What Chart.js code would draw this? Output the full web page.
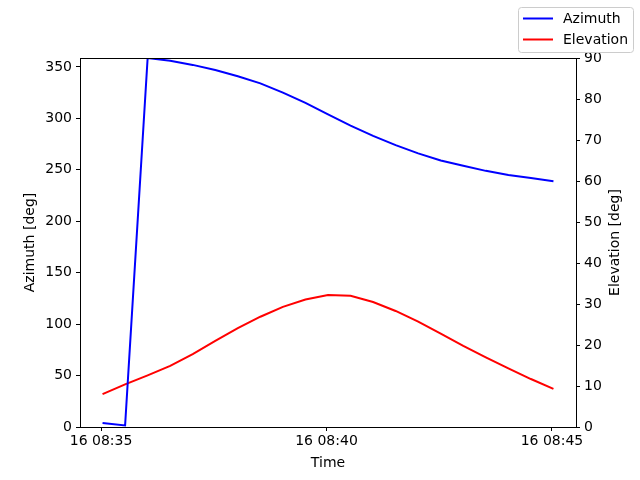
<!DOCTYPE html>
<html>
<head>
<meta charset="utf-8">
<script src="https://cdn.jsdelivr.net/npm/chart.js@4"></script>
<style>
  html, body { margin: 0; padding: 0; background: #fff; }
  canvas { display: block; }
</style>
</head>
<body>
<canvas id="chart" width="640" height="480"></canvas>
<script>
// seconds after 16 08:35:00
const timeSec = [2, 32, 62, 92, 122, 152, 182, 212, 242, 272, 302, 332, 362, 392, 422, 452, 482, 512, 542, 572, 602];
const azimuth = [4, 1.5, 358.7, 356, 352, 347, 341, 334, 325, 315, 304, 293, 283, 274, 266, 259, 254, 249, 245, 242, 239];
const elevation = [8.0, 10.4, 12.6, 14.9, 17.8, 21.0, 24.1, 26.9, 29.3, 31.1, 32.2, 32.0, 30.5, 28.3, 25.7, 22.8, 19.8, 17.0, 14.3, 11.7, 9.3];
const xTicks = [0, 300, 600];
const xTickLabels = ['16 08:35', '16 08:40', '16 08:45'];
const azTicks = [0, 50, 100, 150, 200, 250, 300, 350];

const FONT = 'DejaVu Sans';
Chart.defaults.font.family = FONT;
Chart.defaults.font.size = 14;
Chart.defaults.color = '#000';

const toPoints = (vals) => vals.map((v, i) => ({ x: timeSec[i], y: v }));

// frame around the axes, right axis title, figure-level legend box at the top right
const framePlugin = {
  id: 'frame',
  afterDraw(chart) {
    const { ctx, chartArea: a } = chart;
    ctx.save();
    ctx.strokeStyle = '#000';
    ctx.lineWidth = 1;
    ctx.strokeRect(Math.round(a.left) + 0.5, Math.round(a.top) + 0.5,
      Math.round(a.right - a.left), Math.round(a.bottom - a.top));

    // right axis title, reading bottom to top
    ctx.font = '14px ' + FONT;
    ctx.fillStyle = '#000';
    ctx.textAlign = 'center';
    ctx.textBaseline = 'middle';
    ctx.translate(615, (a.top + a.bottom) / 2);
    ctx.rotate(-Math.PI / 2);
    ctx.fillText('Elevation [deg]', 0, 0);
    ctx.setTransform(1, 0, 0, 1, 0, 0);

    // legend
    const x0 = 518.5, y0 = 7.5, w = 115, h = 45, r = 3;
    ctx.beginPath();
    ctx.moveTo(x0 + r, y0);
    ctx.arcTo(x0 + w, y0, x0 + w, y0 + h, r);
    ctx.arcTo(x0 + w, y0 + h, x0, y0 + h, r);
    ctx.arcTo(x0, y0 + h, x0, y0, r);
    ctx.arcTo(x0, y0, x0 + w, y0, r);
    ctx.closePath();
    ctx.fillStyle = 'rgba(255,255,255,0.8)';
    ctx.fill();
    ctx.strokeStyle = '#cccccc';
    ctx.lineWidth = 1;
    ctx.stroke();
    ctx.textAlign = 'left';
    chart.data.datasets.forEach((ds, i) => {
      const y = 18.5 + i * 21;
      ctx.strokeStyle = ds.borderColor;
      ctx.lineWidth = 2;
      ctx.beginPath();
      ctx.moveTo(523, y);
      ctx.lineTo(553, y);
      ctx.stroke();
      ctx.fillStyle = '#000';
      ctx.fillText(ds.label, 563, y + 1);
    });
    ctx.restore();
  }
};

const tickGrid = {
  display: true,
  drawOnChartArea: false,
  drawTicks: true,
  tickLength: 4,
  color: '#000'
};

new Chart(document.getElementById('chart'), {
  type: 'line',
  data: {
    datasets: [
      {
        label: 'Azimuth',
        data: toPoints(azimuth),
        borderColor: '#0000ff',
        borderWidth: 2,
        pointRadius: 0,
        tension: 0,
        yAxisID: 'y'
      },
      {
        label: 'Elevation',
        data: toPoints(elevation),
        borderColor: '#ff0000',
        borderWidth: 2,
        pointRadius: 0,
        tension: 0,
        yAxisID: 'y1'
      }
    ]
  },
  options: {
    responsive: false,
    animation: false,
    devicePixelRatio: 1,
    layout: { padding: { top: 58, left: 20, right: 0, bottom: 6 } },
    plugins: {
      legend: { display: false },
      tooltip: { enabled: false }
    },
    scales: {
      x: {
        type: 'linear',
        min: -28,
        max: 632,
        grid: tickGrid,
        border: { display: true, color: '#000' },
        afterBuildTicks: (s) => { s.ticks = xTicks.map(v => ({ value: v })); },
        ticks: {
          padding: 2,
          maxRotation: 0,
          callback: (v) => xTickLabels[xTicks.indexOf(v)]
        },
        title: { display: true, text: 'Time', padding: { top: 0, bottom: 2 } },
        afterFit: (s) => { s.height = 47; }
      },
      y: {
        position: 'left',
        min: 0,
        max: 358.7,
        grid: tickGrid,
        border: { display: true, color: '#000' },
        afterBuildTicks: (s) => { s.ticks = azTicks.map(v => ({ value: v })); },
        ticks: { padding: 4 },
        title: { display: true, text: 'Azimuth [deg]', padding: { top: 2, bottom: 0 } },
        afterFit: (s) => { s.width = 60; }
      },
      y1: {
        position: 'right',
        min: 0,
        max: 90,
        grid: tickGrid,
        border: { display: true, color: '#000' },
        ticks: { stepSize: 10, padding: 4 },
        title: { display: false },
        afterFit: (s) => { s.width = 64; }
      }
    }
  },
  plugins: [framePlugin]
});
</script>
</body>
</html>
